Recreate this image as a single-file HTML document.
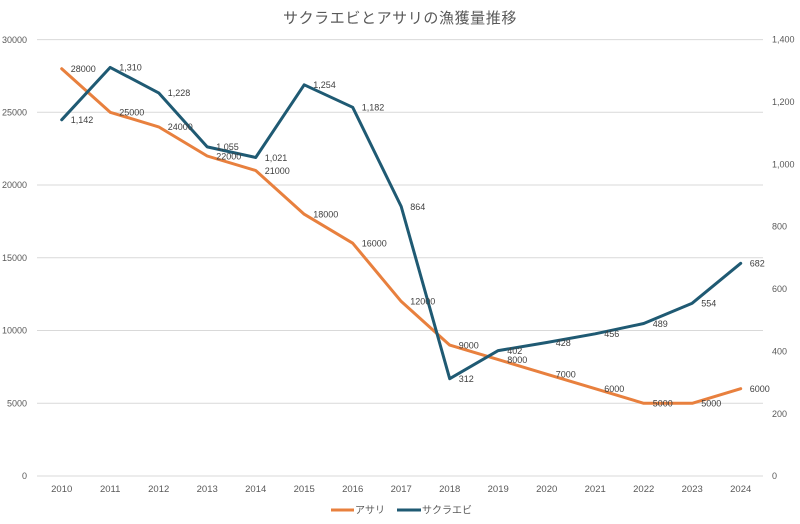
<!DOCTYPE html>
<html><head><meta charset="utf-8"><style>
html,body{margin:0;padding:0;background:#fff;}
svg{display:block;}
text{font-family:"Liberation Sans","Noto Sans CJK JP",sans-serif;}
</style></head><body>
<svg width="800" height="524" viewBox="0 0 800 524" xmlns="http://www.w3.org/2000/svg">
<rect width="800" height="524" fill="#fff"/>
<text x="400" y="23" text-anchor="middle" font-size="15" fill="#595959" letter-spacing="0.6">サクラエビとアサリの漁獲量推移</text>
<g stroke="#d9d9d9" stroke-width="1">
<line x1="37" x2="763" y1="39.6" y2="39.6"/>
<line x1="37" x2="763" y1="112.3" y2="112.3"/>
<line x1="37" x2="763" y1="185" y2="185"/>
<line x1="37" x2="763" y1="257.8" y2="257.8"/>
<line x1="37" x2="763" y1="330.5" y2="330.5"/>
<line x1="37" x2="763" y1="403.3" y2="403.3"/>
<line x1="37" x2="763" y1="476" y2="476"/>
</g>
<g font-size="9" fill="#595959" text-anchor="end">
<text x="27" y="42.8">30000</text>
<text x="27" y="115.5">25000</text>
<text x="27" y="188.2">20000</text>
<text x="27" y="261">15000</text>
<text x="27" y="333.7">10000</text>
<text x="27" y="406.5">5000</text>
<text x="27" y="479.2">0</text>
</g>
<g font-size="9" fill="#595959" text-anchor="start">
<text x="772" y="42.5">1,400</text>
<text x="772" y="104.9">1,200</text>
<text x="772" y="167.3">1,000</text>
<text x="772" y="229.7">800</text>
<text x="772" y="292.1">600</text>
<text x="772" y="354.5">400</text>
<text x="772" y="416.9">200</text>
<text x="772" y="479.2">0</text>
</g>
<g font-size="9.5" fill="#595959" text-anchor="middle">
<text x="61.7" y="492">2010</text>
<text x="110.2" y="492">2011</text>
<text x="158.7" y="492">2012</text>
<text x="207.2" y="492">2013</text>
<text x="255.7" y="492">2014</text>
<text x="304.2" y="492">2015</text>
<text x="352.7" y="492">2016</text>
<text x="401.2" y="492">2017</text>
<text x="449.7" y="492">2018</text>
<text x="498.2" y="492">2019</text>
<text x="546.7" y="492">2020</text>
<text x="595.2" y="492">2021</text>
<text x="643.7" y="492">2022</text>
<text x="692.2" y="492">2023</text>
<text x="740.7" y="492">2024</text>
</g>
<polyline fill="none" stroke="#E8803E" stroke-width="3" stroke-linejoin="round" stroke-linecap="round" points="61.7,68.7 110.2,112.3 158.7,126.9 207.2,156 255.7,170.5 304.2,214.2 352.7,243.2 401.2,301.4 449.7,345.1 498.2,359.6 546.7,374.2 595.2,388.7 643.7,403.3 692.2,403.3 740.7,388.7"/>
<polyline fill="none" stroke="#1F5A73" stroke-width="3" stroke-linejoin="round" stroke-linecap="round" points="61.7,119.8 110.2,67.4 158.7,92.9 207.2,146.9 255.7,157.5 304.2,84.8 352.7,107.3 401.2,206.5 449.7,378.7 498.2,350.6 546.7,342.5 595.2,333.8 643.7,323.5 692.2,303.2 740.7,263.3"/>
<g font-size="9" fill="#404040" text-anchor="start">
<text x="70.7" y="72">28000</text>
<text x="119.2" y="115.6">25000</text>
<text x="167.7" y="130.2">24000</text>
<text x="216.2" y="159.3">22000</text>
<text x="264.7" y="173.8">21000</text>
<text x="313.2" y="217.5">18000</text>
<text x="361.7" y="246.5">16000</text>
<text x="410.2" y="304.7">12000</text>
<text x="458.7" y="348.4">9000</text>
<text x="507.2" y="362.9">8000</text>
<text x="555.7" y="377.5">7000</text>
<text x="604.2" y="392">6000</text>
<text x="652.7" y="406.6">5000</text>
<text x="701.2" y="406.6">5000</text>
<text x="749.7" y="392">6000</text>
<text x="70.7" y="123.1">1,142</text>
<text x="119.2" y="70.7">1,310</text>
<text x="167.7" y="96.2">1,228</text>
<text x="216.2" y="150.2">1,055</text>
<text x="264.7" y="160.8">1,021</text>
<text x="313.2" y="88.1">1,254</text>
<text x="361.7" y="110.6">1,182</text>
<text x="410.2" y="209.8">864</text>
<text x="458.7" y="382">312</text>
<text x="507.2" y="353.9">402</text>
<text x="555.7" y="345.8">428</text>
<text x="604.2" y="337.1">456</text>
<text x="652.7" y="326.8">489</text>
<text x="701.2" y="306.5">554</text>
<text x="749.7" y="266.6">682</text>
</g>
<line x1="331" x2="354" y1="510" y2="510" stroke="#E8803E" stroke-width="3"/>
<text x="355" y="513.5" font-size="10" fill="#595959">アサリ</text>
<line x1="397" x2="421" y1="510" y2="510" stroke="#1F5A73" stroke-width="3"/>
<text x="422" y="513.5" font-size="10" fill="#595959">サクラエビ</text>
</svg>
</body></html>
